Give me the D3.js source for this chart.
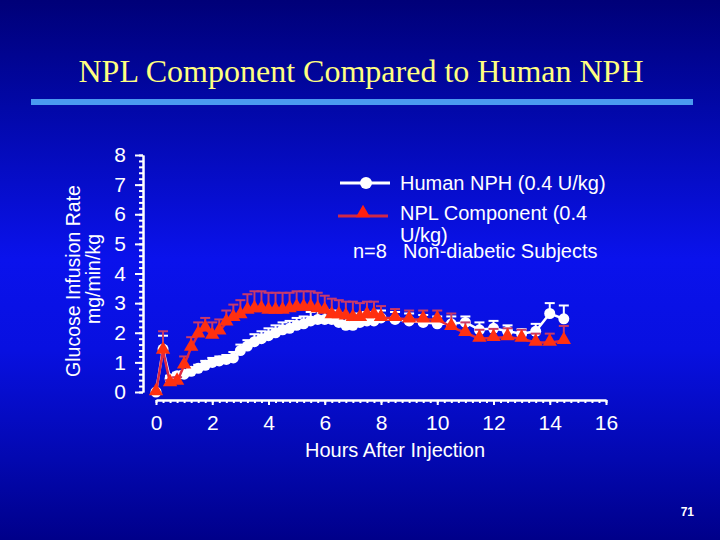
<!DOCTYPE html>
<html>
<head>
<meta charset="utf-8">
<script src="https://cdn.jsdelivr.net/npm/d3@7"></script>
<style>
  body { margin: 0; background: #000080; }
  svg { display: block; }
</style>
</head>
<body>
<div id="chart"></div>
<script>
// hours after injection
var hours = [0, 0.25, 0.5, 0.75, 1, 1.25, 1.5, 1.75, 2, 2.25, 2.5, 2.75, 3, 3.25, 3.5, 3.75,
    4, 4.25, 4.5, 4.75, 5, 5.25, 5.5, 5.75, 6, 6.25, 6.5, 6.75, 7, 7.25, 7.5, 7.75, 8,
    8.5, 9, 9.5, 10, 10.5, 11, 11.5, 12, 12.5, 13, 13.5, 14, 14.5];

// Human NPH (0.4 U/kg), mean and SE
var nphMean = [0, 1.45, 0.45, 0.55, 0.6, 0.7, 0.8, 0.9, 1.0, 1.05, 1.1, 1.15, 1.4, 1.55, 1.7, 1.8,
    1.9, 2.0, 2.1, 2.15, 2.25, 2.3, 2.4, 2.45, 2.45, 2.45, 2.35, 2.25, 2.25, 2.35, 2.4, 2.4, 2.5,
    2.45, 2.4, 2.35, 2.3, 2.3, 2.35, 2.1, 2.15, 2.05, 1.97, 2.05, 2.65, 2.47];
var nphSE = [0, 0.45, 0.1, 0.1, 0.1, 0.12, 0.12, 0.15, 0.15, 0.15, 0.15, 0.2, 0.2, 0.2, 0.25, 0.25,
    0.25, 0.25, 0.25, 0.25, 0.25, 0.25, 0.3, 0.3, 0.3, 0.3, 0.3, 0.3, 0.3, 0.3, 0.3, 0.3, 0.25,
    0.25, 0.25, 0.25, 0.25, 0.25, 0.2, 0.25, 0.25, 0.2, 0.15, 0.25, 0.35, 0.45];

// NPL Component (0.4 U/kg), mean and SE
var nplMean = [0, 1.4, 0.3, 0.35, 0.9, 1.5, 1.95, 2.15, 1.9, 2.05, 2.35, 2.5, 2.6, 2.75, 2.8, 2.8,
    2.75, 2.75, 2.75, 2.8, 2.85, 2.85, 2.85, 2.8, 2.75, 2.6, 2.6, 2.55, 2.5, 2.5, 2.6, 2.6, 2.5,
    2.5, 2.45, 2.45, 2.45, 2.2, 2.0, 1.8, 1.83, 1.85, 1.8, 1.67, 1.67, 1.73];
var nplSE = [0, 0.65, 0.1, 0.15, 0.3, 0.35, 0.4, 0.35, 0.45, 0.4, 0.4, 0.45, 0.5, 0.55, 0.6, 0.6,
    0.6, 0.6, 0.6, 0.55, 0.55, 0.55, 0.55, 0.55, 0.5, 0.55, 0.5, 0.5, 0.55, 0.5, 0.45, 0.45, 0.4,
    0.3, 0.3, 0.3, 0.3, 0.45, 0.35, 0.3, 0.3, 0.3, 0.3, 0.3, 0.3, 0.5];

var xTicks = [0, 2, 4, 6, 8, 10, 12, 14, 16];
var yTicks = [0, 1, 2, 3, 4, 5, 6, 7, 8];

var w = 720, h = 540;
var font = "'Liberation Sans', Arial, sans-serif";

var svg = d3.select("#chart").append("svg")
    .attr("width", w)
    .attr("height", h);

// slide background
var grad = svg.append("defs").append("linearGradient")
    .attr("id", "bg")
    .attr("x1", 0).attr("y1", 0).attr("x2", 0).attr("y2", 1);
[["0%", "#000078"], ["20%", "#0208a8"], ["48%", "#0a12ec"], ["65%", "#0810e0"], ["85%", "#0308b0"], ["100%", "#00008a"]]
    .forEach(function (s) {
        grad.append("stop").attr("offset", s[0]).attr("stop-color", s[1]);
    });
svg.append("rect").attr("width", w).attr("height", h).attr("fill", "url(#bg)");

// title
svg.append("text")
    .attr("x", 361).attr("y", 82)
    .attr("text-anchor", "middle")
    .attr("font-family", "'Liberation Serif', 'Times New Roman', serif")
    .attr("font-size", 32)
    .attr("fill", "#ffff80")
    .text("NPL Component Compared to Human NPH");

svg.append("rect")
    .attr("x", 31).attr("y", 99).attr("width", 662).attr("height", 6)
    .attr("fill", "#4a9af0");

var x = d3.scaleLinear().domain([0, 16]).range([156, 606]);
var y = d3.scaleLinear().domain([0, 8]).range([392, 155]);

// y axis: minor then major ticks
var yMinor = svg.append("g")
    .attr("transform", "translate(143,0)")
    .call(d3.axisLeft(y).tickValues(d3.range(0, 8.01, 0.2)).tickSize(4).tickSizeOuter(0).tickFormat(""));
var yMajor = svg.append("g")
    .attr("transform", "translate(143,0)")
    .call(d3.axisLeft(y).tickValues(yTicks).tickSize(8).tickSizeOuter(0).tickPadding(9));

// x axis
var xMinor = svg.append("g")
    .attr("transform", "translate(0,400)")
    .call(d3.axisBottom(x).tickValues(d3.range(0, 16.01, 0.25)).tickSize(3).tickSizeOuter(0).tickFormat(""));
var xMajor = svg.append("g")
    .attr("transform", "translate(0,400)")
    .call(d3.axisBottom(x).tickValues(xTicks).tickSize(5).tickSizeOuter(0).tickPadding(10));

[yMinor, yMajor, xMinor, xMajor].forEach(function (g) {
    g.selectAll("path, line").attr("stroke", "#fff").attr("stroke-width", 2);
    g.selectAll("text").attr("fill", "#fff").attr("font-family", font).attr("font-size", 21);
});

// axis titles
svg.append("text")
    .attr("transform", "translate(80,281) rotate(-90)")
    .attr("text-anchor", "middle")
    .attr("font-family", font).attr("font-size", 19.5).attr("fill", "#fff")
    .text("Glucose Infusion Rate");
svg.append("text")
    .attr("transform", "translate(100,279) rotate(-90)")
    .attr("text-anchor", "middle")
    .attr("font-family", font).attr("font-size", 19.5).attr("fill", "#fff")
    .text("mg/min/kg");
svg.append("text")
    .attr("x", 395).attr("y", 457)
    .attr("text-anchor", "middle")
    .attr("font-family", font).attr("font-size", 20).attr("fill", "#fff")
    .text("Hours After Injection");

var nph = hours.map(function (t, i) { return { t: t, m: nphMean[i], se: nphSE[i] }; });
var npl = hours.map(function (t, i) { return { t: t, m: nplMean[i], se: nplSE[i] }; });

var line = d3.line()
    .x(function (d) { return x(d.t); })
    .y(function (d) { return y(d.m); });

var tri = d3.symbol().type(d3.symbolTriangle).size(90);

function errorBars(data, color) {
    var g = svg.append("g").attr("stroke", color).attr("stroke-width", 2);
    data.filter(function (d) { return d.se > 0; }).forEach(function (d) {
        g.append("line")
            .attr("x1", x(d.t)).attr("x2", x(d.t))
            .attr("y1", y(d.m)).attr("y2", y(d.m + d.se));
        g.append("line")
            .attr("x1", x(d.t) - 5).attr("x2", x(d.t) + 5)
            .attr("y1", y(d.m + d.se)).attr("y2", y(d.m + d.se));
    });
}

// Human NPH
errorBars(nph, "#ffffff");
svg.append("path").datum(nph)
    .attr("d", line)
    .attr("fill", "none").attr("stroke", "#fff").attr("stroke-width", 2.5);
svg.append("g").selectAll("circle")
    .data(nph).enter().append("circle")
    .attr("cx", function (d) { return x(d.t); })
    .attr("cy", function (d) { return y(d.m); })
    .attr("r", 5.5)
    .attr("fill", "#fff");

// NPL component
errorBars(npl, "#c83a6a");
svg.append("path").datum(npl)
    .attr("d", line)
    .attr("fill", "none").attr("stroke", "#e02840").attr("stroke-width", 2.5);
svg.append("g").selectAll("path")
    .data(npl).enter().append("path")
    .attr("d", tri)
    .attr("transform", function (d) { return "translate(" + x(d.t) + "," + (y(d.m) - 1) + ")"; })
    .attr("fill", "#ff3010");

// legend
var lg = svg.append("g").attr("font-family", font).attr("font-size", 20).attr("fill", "#fff");
lg.append("line").attr("x1", 340).attr("x2", 390).attr("y1", 183).attr("y2", 183)
    .attr("stroke", "#fff").attr("stroke-width", 3);
lg.append("circle").attr("cx", 366).attr("cy", 183).attr("r", 6).attr("fill", "#fff");
lg.append("text").attr("x", 400).attr("y", 190).text("Human NPH (0.4 U/kg)");

lg.append("line").attr("x1", 338).attr("x2", 388).attr("y1", 216).attr("y2", 216)
    .attr("stroke", "#d02848").attr("stroke-width", 3);
lg.append("path").attr("d", tri).attr("transform", "translate(363,213)").attr("fill", "#ff2010");
lg.append("text").attr("x", 400).attr("y", 220).text("NPL Component (0.4");
lg.append("text").attr("x", 400).attr("y", 242).text("U/kg)");
lg.append("text").attr("x", 353).attr("y", 258).text("n=8");
lg.append("text").attr("x", 403).attr("y", 258).text("Non-diabetic Subjects");

// slide number
svg.append("text")
    .attr("x", 694).attr("y", 516)
    .attr("text-anchor", "end")
    .attr("font-family", font).attr("font-size", 12).attr("font-weight", "bold")
    .attr("fill", "#fff")
    .text("71");
</script>
</body>
</html>
